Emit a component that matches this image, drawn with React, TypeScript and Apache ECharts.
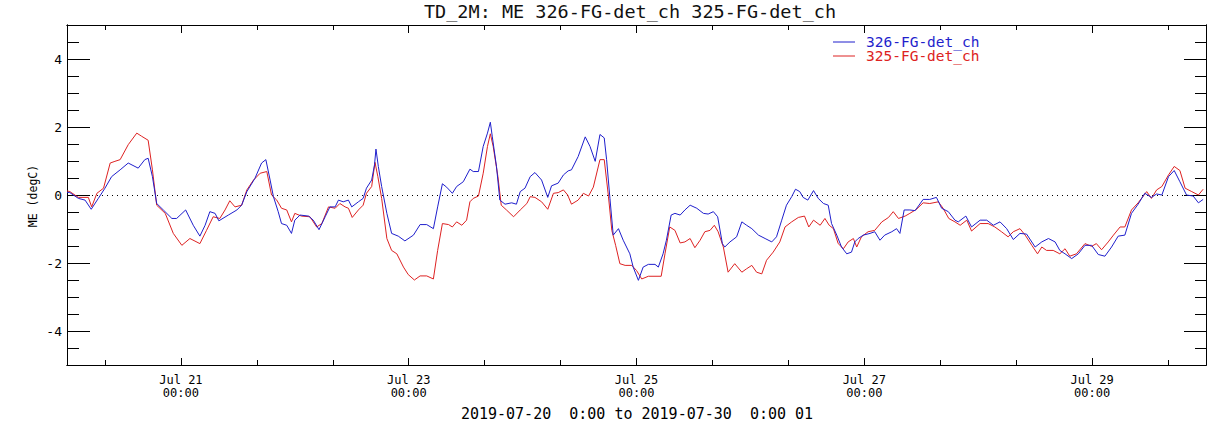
import React, { useEffect, useRef } from 'react';
import * as echarts from 'echarts';

const titleText = 'TD_2M: ME 326-FG-det_ch 325-FG-det_ch';
const seriesNames = ['326-FG-det_ch', '325-FG-det_ch'];
const seriesColors = ['#1f1fcc', '#dd2222'];
const yName = 'ME (degC)';
const rangeText = '2019-07-20  0:00 to 2019-07-30  0:00 01';

// hours since 2019-07-20 00:00, value (degC)
const blueData: number[][] = [
  [0, 0.08], [0.6, 0.07], [2.4, -0.1], [3.8, -0.15], [5.1, -0.42], [6.6, -0.1], [8.0, 0.2], [9.4, 0.54],
  [11.2, 0.74], [12.9, 0.94], [15.0, 0.79], [16.4, 1.04], [17.1, 1.08], [18.0, 0.54], [18.9, -0.25],
  [20.3, -0.44], [22.1, -0.69], [23.1, -0.69], [25.0, -0.44], [26.6, -0.89], [28.0, -1.21], [29.1, -0.89],
  [30.1, -0.49], [31.2, -0.54], [32.0, -0.76], [34.0, -0.59], [35.8, -0.44], [36.8, -0.3], [37.9, 0.1],
  [39.6, 0.49], [41.0, 0.94], [41.9, 1.04], [42.8, 0.44], [43.5, -0.05], [44.5, -0.49], [45.2, -0.84],
  [46.3, -0.89], [47.3, -1.13], [48.0, -0.74], [49.1, -0.59], [50.9, -0.62], [51.9, -0.74], [53.1, -1.02],
  [54.4, -0.64], [55.4, -0.35], [56.5, -0.35], [57.2, -0.15], [58.2, -0.2], [59.3, -0.15], [60.0, -0.35],
  [61.4, -0.2], [62.4, -0.1], [63.1, 0.2], [64.2, 0.44], [64.8, 0.89], [65.1, 1.35], [65.6, 0.84],
  [66.3, 0.25], [67.4, -0.54], [68.4, -1.13], [69.8, -1.21], [71.2, -1.35], [73.0, -1.18], [74.4, -0.87],
  [75.8, -0.87], [77.2, -0.99], [78.1, -0.35], [79.1, 0.33], [80.0, 0.23], [81.2, 0.05], [82.1, 0.25],
  [83.5, 0.39], [84.9, 0.76], [85.6, 0.69], [86.7, 0.69], [87.7, 1.43], [88.6, 1.82], [89.2, 2.14],
  [89.6, 1.73], [90.5, 0.84], [91.2, -0.15], [92.3, -0.27], [93.7, -0.23], [94.7, -0.27], [95.5, 0.1],
  [96.5, 0.2], [97.6, 0.54], [98.6, 0.66], [100.0, 0.44], [101.3, -0.07], [102.1, 0.27], [103.5, 0.35],
  [104.6, 0.59], [105.6, 0.71], [106.3, 0.74], [107.7, 1.13], [109.2, 1.71], [110.2, 1.43], [111.3, 0.99],
  [112.3, 1.78], [113.2, 1.68], [113.7, 1.04], [114.4, -0.1], [115.1, -1.18], [116.2, -0.99], [117.2, -1.33],
  [118.6, -1.73], [119.3, -2.12], [120.4, -2.51], [121.4, -2.12], [122.5, -2.04], [123.9, -2.04],
  [124.6, -2.12], [125.6, -1.73], [126.3, -1.33], [127.3, -0.59], [128.1, -0.54], [129.2, -0.59],
  [130.2, -0.44], [131.3, -0.3], [132.7, -0.39], [134.1, -0.54], [135.1, -0.56], [136.2, -0.49],
  [137.1, -0.64], [138.1, -1.43], [138.6, -1.53], [139.7, -1.38], [141.1, -1.23], [142.2, -0.79],
  [143.2, -0.89], [144.3, -0.99], [145.7, -1.18], [147.1, -1.28], [148.5, -1.38], [149.5, -1.23],
  [150.6, -0.74], [151.6, -0.3], [152.7, -0.05], [153.5, 0.17], [154.4, 0.1], [155.1, -0.07], [156.1, -0.15],
  [157.3, 0.13], [158.3, -0.1], [159.4, -0.25], [160.4, -0.3], [161.1, -0.84], [162.2, -1.18], [163.2, -1.53],
  [164.3, -1.73], [165.3, -1.68], [166.0, -1.38], [166.7, -1.28], [167.8, -1.18], [169.2, -1.13],
  [170.2, -1.08], [171.3, -1.33], [172.3, -1.18], [173.8, -1.08], [174.8, -0.99], [175.5, -1.13],
  [176.4, -0.44], [177.6, -0.44], [178.7, -0.46], [180.4, -0.13], [181.8, -0.13], [183.2, -0.07],
  [184.3, -0.39], [185.7, -0.49], [187.1, -0.74], [187.8, -0.79], [189.4, -0.62], [190.6, -0.94],
  [192.4, -0.74], [193.8, -0.74], [195.2, -0.89], [196.6, -0.79], [198.0, -0.99], [199.4, -1.31],
  [200.8, -1.13], [202.2, -1.15], [204.0, -1.53], [205.4, -1.38], [206.8, -1.28], [208.2, -1.38],
  [209.2, -1.63], [210.3, -1.73], [211.7, -1.87], [213.1, -1.73], [214.5, -1.48], [215.9, -1.48],
  [217.3, -1.75], [218.7, -1.8], [220.1, -1.53], [221.5, -1.21], [222.9, -1.18], [224.3, -0.54],
  [225.7, -0.27], [227.1, 0.05], [228.5, -0.07], [229.6, 0.03], [230.7, 0.0], [232.1, 0.54], [233.3, 0.72],
  [234.5, 0.39], [235.9, 0.0], [237.3, -0.03], [238.4, -0.23], [239.4, -0.13],
];

const redData: number[][] = [
  [0, 0.12], [0.6, 0.1], [2.4, -0.07], [4.5, -0.07], [5.2, -0.35], [6.3, 0.05], [7.7, 0.2], [9.1, 0.94],
  [10.1, 0.99], [11.2, 1.04], [12.9, 1.48], [14.7, 1.82], [15.7, 1.73], [17.1, 1.61], [18.0, 0.74],
  [18.9, -0.3], [20.7, -0.54], [22.4, -1.13], [24.2, -1.48], [25.9, -1.28], [28.0, -1.43], [29.4, -1.04],
  [30.8, -0.64], [32.2, -0.69], [33.3, -0.44], [34.3, -0.17], [35.4, -0.35], [36.8, -0.3], [37.9, 0.15],
  [39.3, 0.44], [40.7, 0.64], [42.1, 0.69], [43.1, 0.0], [44.2, -0.15], [45.2, -0.39], [46.3, -0.44],
  [47.3, -0.79], [48.0, -0.54], [49.4, -0.62], [51.2, -0.64], [52.6, -0.94], [53.7, -0.84], [55.1, -0.35],
  [56.5, -0.39], [57.5, -0.25], [58.6, -0.35], [59.3, -0.39], [60.1, -0.66], [61.4, -0.44], [62.4, -0.3],
  [63.1, 0.05], [64.2, 0.25], [64.9, 0.96], [65.5, 0.54], [66.3, -0.1], [67.4, -1.28], [68.4, -1.63],
  [69.5, -1.73], [70.9, -2.12], [71.9, -2.34], [73.2, -2.5], [74.4, -2.38], [75.8, -2.38], [77.2, -2.47],
  [78.1, -1.63], [79.1, -0.84], [80.4, -0.87], [81.2, -0.94], [82.1, -0.79], [83.2, -0.89], [84.2, -0.74],
  [84.9, -0.2], [85.6, -0.1], [86.7, -0.03], [87.7, 0.64], [88.6, 1.43], [89.2, 1.8], [89.8, 1.43],
  [90.8, 0.54], [91.5, -0.3], [92.6, -0.44], [94.1, -0.64], [95.5, -0.44], [96.9, -0.25], [97.6, -0.05],
  [98.6, -0.07], [100.0, -0.2], [101.3, -0.42], [102.5, 0.05], [103.5, 0.07], [104.6, 0.15], [105.5, 0.0],
  [106.3, -0.27], [107.7, -0.15], [108.8, 0.05], [109.9, -0.03], [110.9, 0.23], [112.3, 1.04], [113.2, 1.04],
  [114.1, -0.05], [114.8, -1.04], [115.6, -1.48], [116.5, -2.02], [117.6, -2.07], [119.0, -2.07],
  [120.0, -2.22], [121.1, -2.47], [122.5, -2.39], [123.9, -2.39], [125.2, -2.39], [126.0, -1.73],
  [127.0, -0.94], [128.1, -1.04], [129.2, -1.41], [130.2, -1.38], [131.3, -1.28], [132.3, -1.55],
  [133.4, -1.33], [134.4, -1.08], [135.5, -1.04], [136.4, -0.89], [137.2, -1.08], [138.3, -1.53],
  [139.3, -2.27], [140.7, -2.02], [142.2, -2.27], [143.2, -2.17], [144.3, -2.07], [145.3, -2.27],
  [146.4, -2.32], [147.4, -1.92], [148.8, -1.68], [150.2, -1.38], [151.3, -0.94], [152.7, -0.79],
  [154.1, -0.66], [155.4, -0.62], [156.3, -0.94], [157.3, -0.74], [158.7, -0.89], [159.7, -0.69],
  [160.6, -0.89], [161.5, -0.99], [162.5, -1.43], [163.6, -1.58], [164.6, -1.38], [165.7, -1.28],
  [166.4, -1.53], [167.4, -1.23], [168.8, -1.08], [170.2, -1.04], [171.7, -0.79], [173.1, -0.66],
  [174.1, -0.49], [175.2, -0.69], [176.6, -0.62], [177.6, -0.54], [179.0, -0.42], [180.4, -0.23],
  [181.8, -0.25], [183.6, -0.2], [184.6, -0.39], [185.8, -0.69], [187.1, -0.79], [188.2, -0.89],
  [189.6, -0.74], [190.6, -1.06], [192.4, -0.84], [194.1, -0.84], [195.5, -0.94], [196.9, -1.08],
  [198.3, -1.23], [199.4, -1.08], [200.8, -0.99], [201.9, -1.18], [203.3, -1.48], [204.5, -1.73],
  [205.4, -1.53], [206.4, -1.63], [207.8, -1.63], [209.2, -1.73], [210.3, -1.58], [211.3, -1.8],
  [212.7, -1.73], [214.5, -1.43], [215.9, -1.51], [216.9, -1.43], [218.0, -1.61], [219.4, -1.38],
  [220.5, -1.18], [221.9, -0.94], [222.9, -0.94], [224.3, -0.44], [225.7, -0.23], [227.5, 0.1],
  [228.5, -0.1], [229.6, 0.15], [230.7, 0.25], [232.1, 0.59], [233.3, 0.84], [234.5, 0.72], [235.6, 0.2],
  [237.0, 0.1], [238.4, 0.0], [239.4, 0.17],
];

const xMin = 0;
const xMax = 240;
const xTickHours = [8, 24, 40, 56, 72, 88, 104, 120, 136, 152, 168, 184, 200, 216, 232];
const xLabelHours = [24, 72, 120, 168, 216];
const xLabelTexts = ['Jul 21\n00:00', 'Jul 23\n00:00', 'Jul 25\n00:00', 'Jul 27\n00:00', 'Jul 29\n00:00'];
const yMin = -5;
const yMax = 5;
const yMinorTicks = [-4.5, -4, -3.5, -3, -2.5, -2, -1.5, -1, -0.5, 0, 0.5, 1, 1.5, 2, 2.5, 3, 3.5, 4, 4.5];
const yMajorTicks = [-4, -2, 0, 2, 4];

const FONT = '"DejaVu Sans Mono", "Liberation Mono", monospace';

export default function App() {
  const ref = useRef<HTMLDivElement>(null);
  useEffect(() => {
    if (!ref.current) return;
    const chart = echarts.init(ref.current, undefined, { renderer: 'svg' });
    const line = { show: true, onZero: false, lineStyle: { color: '#000', width: 1 } };
    const tickStyle = { color: '#000', width: 1 };
    const xAxisBase = (position: string, len: number, ticks: number[], labels: boolean) => ({
      type: 'value',
      position,
      min: xMin,
      max: xMax,
      axisLine: line,
      splitLine: { show: false },
      axisTick: { show: true, inside: true, length: len, customValues: ticks, lineStyle: tickStyle },
      axisLabel: labels
        ? {
            show: true,
            customValues: xLabelHours,
            margin: 8,
            color: '#000',
            fontFamily: FONT,
            fontSize: 12,
            lineHeight: 13,
            formatter: (v: number) => {
              const i = xLabelHours.indexOf(Math.round(v));
              return i >= 0 ? xLabelTexts[i] : '';
            },
          }
        : { show: false },
    });
    const yAxisBase = (position: string, len: number, ticks: number[], labels: boolean) => ({
      type: 'value',
      position,
      min: yMin,
      max: yMax,
      axisLine: line,
      splitLine: { show: false },
      axisTick: { show: true, inside: true, length: len, customValues: ticks, lineStyle: tickStyle },
      axisLabel: labels
        ? {
            show: true,
            customValues: yMajorTicks,
            margin: 5,
            color: '#000',
            fontFamily: FONT,
            fontSize: 13,
            formatter: (v: number) => String(v),
          }
        : { show: false },
    });
    chart.setOption({
      animation: false,
      backgroundColor: '#fff',
      grid: { left: 67, right: 5, top: 25, bottom: 59, containLabel: false },
      xAxis: [
        xAxisBase('bottom', 5, xTickHours, false),
        xAxisBase('bottom', 7, xLabelHours, true),
        xAxisBase('top', 5, xTickHours, false),
        xAxisBase('top', 8, xLabelHours, false),
      ],
      yAxis: [
        yAxisBase('left', 12, yMinorTicks, false),
        yAxisBase('left', 23, yMajorTicks, true),
        yAxisBase('right', 11, yMinorTicks, false),
        yAxisBase('right', 22, yMajorTicks, false),
      ],
      series: [
        {
          name: seriesNames[0],
          type: 'line',
          xAxisIndex: 0,
          yAxisIndex: 0,
          data: blueData,
          showSymbol: false,
          symbol: 'none',
          lineStyle: { color: seriesColors[0], width: 1 },
          z: 3,
          markLine: {
            silent: true,
            symbol: 'none',
            label: { show: false },
            lineStyle: { color: '#000', type: [1, 4], width: 1 },
            data: [{ yAxis: 0 }],
            z: 1,
          },
        },
        {
          name: seriesNames[1],
          type: 'line',
          xAxisIndex: 0,
          yAxisIndex: 0,
          data: redData,
          showSymbol: false,
          symbol: 'none',
          lineStyle: { color: seriesColors[1], width: 1 },
          z: 2,
        },
      ],
      graphic: [
        {
          type: 'text',
          x: 630,
          y: 11,
          style: { text: titleText, fontFamily: FONT, fontSize: 18.5, fill: '#111', textAlign: 'center', textVerticalAlign: 'middle' },
        },
        {
          type: 'text',
          x: 33,
          y: 196,
          rotation: Math.PI / 2,
          style: { text: yName, fontFamily: FONT, fontSize: 11.5, fill: '#000', textAlign: 'center', textVerticalAlign: 'middle' },
        },
        {
          type: 'text',
          x: 637,
          y: 414,
          style: { text: rangeText, fontFamily: FONT, fontSize: 15, fill: '#000', textAlign: 'center', textVerticalAlign: 'middle' },
        },
        {
          type: 'line',
          shape: { x1: 833, y1: 42, x2: 855, y2: 42 },
          style: { stroke: seriesColors[0], lineWidth: 1 },
        },
        {
          type: 'text',
          x: 866,
          y: 42,
          style: { text: seriesNames[0], fontFamily: FONT, fontSize: 14.5, lineHeight: 13, fill: seriesColors[0], textAlign: 'left', textVerticalAlign: 'middle' },
        },
        {
          type: 'line',
          shape: { x1: 833, y1: 56, x2: 855, y2: 56 },
          style: { stroke: seriesColors[1], lineWidth: 1 },
        },
        {
          type: 'text',
          x: 866,
          y: 56,
          style: { text: seriesNames[1], fontFamily: FONT, fontSize: 14.5, lineHeight: 13, fill: seriesColors[1], textAlign: 'left', textVerticalAlign: 'middle' },
        },
      ],
    });
    return () => chart.dispose();
  }, []);
  return <div ref={ref} style={{ position: 'fixed', left: 0, top: 0, width: 1211, height: 424 }} />;
}
